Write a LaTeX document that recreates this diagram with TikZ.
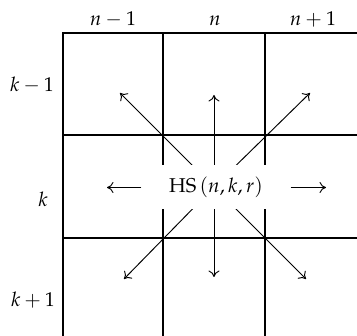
\documentclass[tikz,border=0pt]{standalone}
\usepackage{mathpazo}
\usetikzlibrary{arrows.meta}
\begin{document}
\begin{tikzpicture}[x=1pt,y=-1pt,
  gridline/.style={line width=1.4pt},
  arr/.style={line width=0.95pt,-{Computer Modern Rightarrow[length=6.5pt,width=11pt]}},
  lbl/.style={font=\fontsize{20}{24}\selectfont,anchor=base,inner sep=0pt},
  hsbox/.style={font=\fontsize{20}{24}\selectfont,fill=white,inner sep=0pt,minimum width=149pt,minimum height=44pt}]
\useasboundingbox (0,0) rectangle (357,336);
% grid
\draw[gridline] (63,336) -- (63,33) -- (357,33);
\draw[gridline] (163,33) -- (163,336);
\draw[gridline] (265,33) -- (265,336);
\draw[gridline] (63,135) -- (357,135);
\draw[gridline] (63,238) -- (357,238);
% labels
\node[lbl] (c1) at (113,26) {$n-1$};
\node[lbl] (c2) at (215,26) {$n$};
\node[lbl] (c3) at (313,26) {$n+1$};
\node[lbl] (r1) at (32,92) {$k-1$};
\node[lbl] (r2) at (43,207) {$k$};
\node[lbl] (r3) at (33,307) {$k+1$};
% arrows from centre
\coordinate (c) at (214,187);
\coordinate (ul) at (120,93);
\coordinate (u) at (214,95);
\coordinate (ur) at (310,93);
\coordinate (dl) at (124,279);
\coordinate (d) at (214,277);
\coordinate (dr) at (306,279);
\coordinate (l) at (107,187.5);
\coordinate (r) at (326,187.5);
\foreach \t in {ul,u,ur,dl,d,dr} \draw[arr] (c) -- (\t);
\node[hsbox] (hs) at (216,187) {$\mathrm{HS}\,(n,k,r)$};
\draw[arr] (hs.west |- l) -- (l);
\draw[arr] (hs.east |- r) -- (r);
\end{tikzpicture}
\end{document}
